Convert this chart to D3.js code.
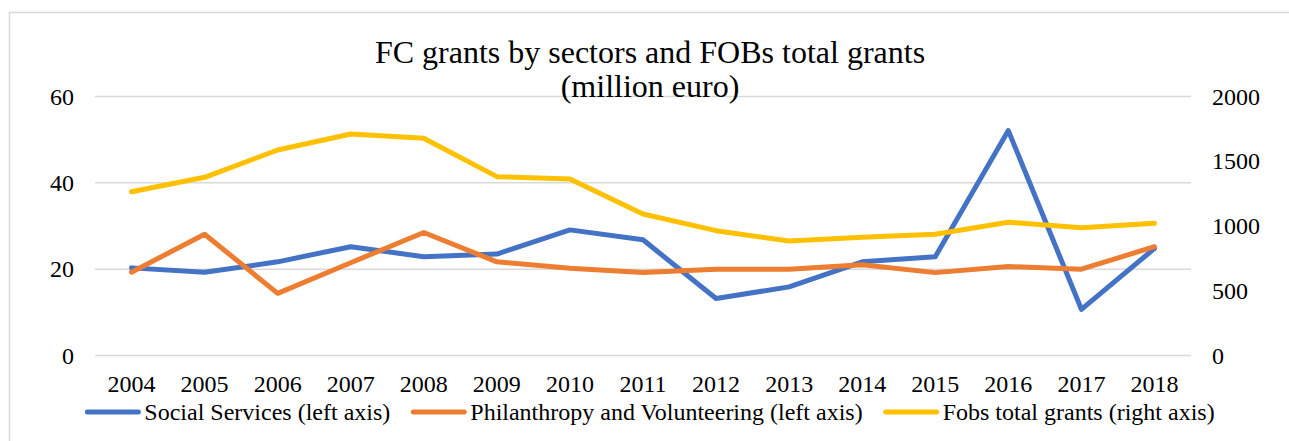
<!DOCTYPE html>
<html>
<head>
<meta charset="utf-8">
<script src="https://cdn.jsdelivr.net/npm/d3@7"></script>
<style>
  body { margin: 0; background: #fff; }
  svg { display: block; font-family: "Liberation Serif", "Times New Roman", serif; }
</style>
</head>
<body>
<div id="chart"></div>
<script>
const years = ["2004","2005","2006","2007","2008","2009","2010","2011","2012","2013","2014","2015","2016","2017","2018"];
const socialServices = [20.3, 19.3, 21.7, 25.2, 22.9, 23.5, 29.1, 26.8, 13.2, 15.9, 21.7, 22.9, 52.1, 10.7, 24.8];
const philanthropy = [19.3, 28.1, 14.4, 21.5, 28.5, 21.7, 20.2, 19.2, 20.0, 20.0, 21.0, 19.2, 20.6, 20.0, 25.2];
const fobsTotal = [1265, 1376, 1587, 1710, 1677, 1381, 1363, 1093, 964, 884, 913, 936, 1029, 987, 1021];
const leftTicks = [0, 20, 40, 60];
const rightTicks = [0, 500, 1000, 1500, 2000];

const width = 1289, height = 441;
const plot = {left: 95, right: 1191, top: 96.5, bottom: 355.5};

const svg = d3.select("#chart").append("svg")
    .attr("width", width)
    .attr("height", height);

// chart frame
svg.append("rect")
    .attr("x", 9.5).attr("y", 12.5)
    .attr("width", width + 10).attr("height", height + 10)
    .attr("fill", "#fff")
    .attr("stroke", "#d9d9d9")
    .attr("stroke-width", 1.5);

const x = d3.scalePoint()
    .domain(years)
    .range([plot.left, plot.right])
    .padding(0.5);

const yLeft = d3.scaleLinear().domain([0, 60]).range([plot.bottom, plot.top]);
const yRight = d3.scaleLinear().domain([0, 2000]).range([plot.bottom, plot.top]);

// gridlines
svg.append("g")
    .selectAll("line")
    .data(leftTicks)
    .enter()
    .append("line")
    .attr("x1", plot.left).attr("x2", plot.right)
    .attr("y1", d => yLeft(d)).attr("y2", d => yLeft(d))
    .attr("stroke", "#d9d9d9")
    .attr("stroke-width", 1.5);

// left axis labels
svg.append("g")
    .selectAll("text")
    .data(leftTicks)
    .enter()
    .append("text")
    .attr("x", 74)
    .attr("y", d => yLeft(d) + 8)
    .attr("text-anchor", "end")
    .attr("font-size", 24)
    .text(d => d);

// right axis labels
svg.append("g")
    .selectAll("text")
    .data(rightTicks)
    .enter()
    .append("text")
    .attr("x", 1212)
    .attr("y", d => yRight(d) + 8)
    .attr("font-size", 24)
    .text(d => d);

// year labels
svg.append("g")
    .selectAll("text")
    .data(years)
    .enter()
    .append("text")
    .attr("x", d => x(d))
    .attr("y", 392)
    .attr("text-anchor", "middle")
    .attr("font-size", 24)
    .text(d => d);

const series = [
    {name: "Social Services (left axis)", values: socialServices, scale: yLeft, color: "#4472C4"},
    {name: "Philanthropy and Volunteering (left axis)", values: philanthropy, scale: yLeft, color: "#ED7D31"},
    {name: "Fobs total grants (right axis)", values: fobsTotal, scale: yRight, color: "#FFC000"}
];

// draw order: yellow behind? keep Excel order, last on top
const drawOrder = [series[2], series[0], series[1]];
for (const s of [series[0], series[1], series[2]]) {
    const line = d3.line()
        .x((d, i) => x(years[i]))
        .y(d => s.scale(d));
    svg.append("path")
        .datum(s.values)
        .attr("d", line)
        .attr("fill", "none")
        .attr("stroke", s.color)
        .attr("stroke-width", 5)
        .attr("stroke-linejoin", "round")
        .attr("stroke-linecap", "round");
}

// title
const title = svg.append("text")
    .attr("x", 650)
    .attr("text-anchor", "middle")
    .attr("font-size", 32);
title.append("tspan").attr("x", 650).attr("y", 63).text("FC grants by sectors and FOBs total grants");
title.append("tspan").attr("x", 650).attr("y", 97).text("(million euro)");

// legend
const legend = svg.append("g");
const swatch = 55, gapText = 4, gapItem = 21;
const items = legend.selectAll("g")
    .data(series)
    .enter()
    .append("g");
items.append("line")
    .attr("x1", 2).attr("x2", swatch - 2)
    .attr("y1", 0).attr("y2", 0)
    .attr("stroke", d => d.color)
    .attr("stroke-width", 5)
    .attr("stroke-linecap", "round");
items.append("text")
    .attr("x", swatch + gapText)
    .attr("y", 8)
    .attr("font-size", 24)
    .text(d => d.name);

let offsets = [], total = 0;
items.each(function() {
    const w = swatch + gapText + this.querySelector("text").getComputedTextLength();
    offsets.push(total);
    total += w + gapItem;
});
total -= gapItem;
const startX = 650 - total / 2;
items.attr("transform", (d, i) => `translate(${startX + offsets[i]},412)`);
</script>
</body>
</html>
